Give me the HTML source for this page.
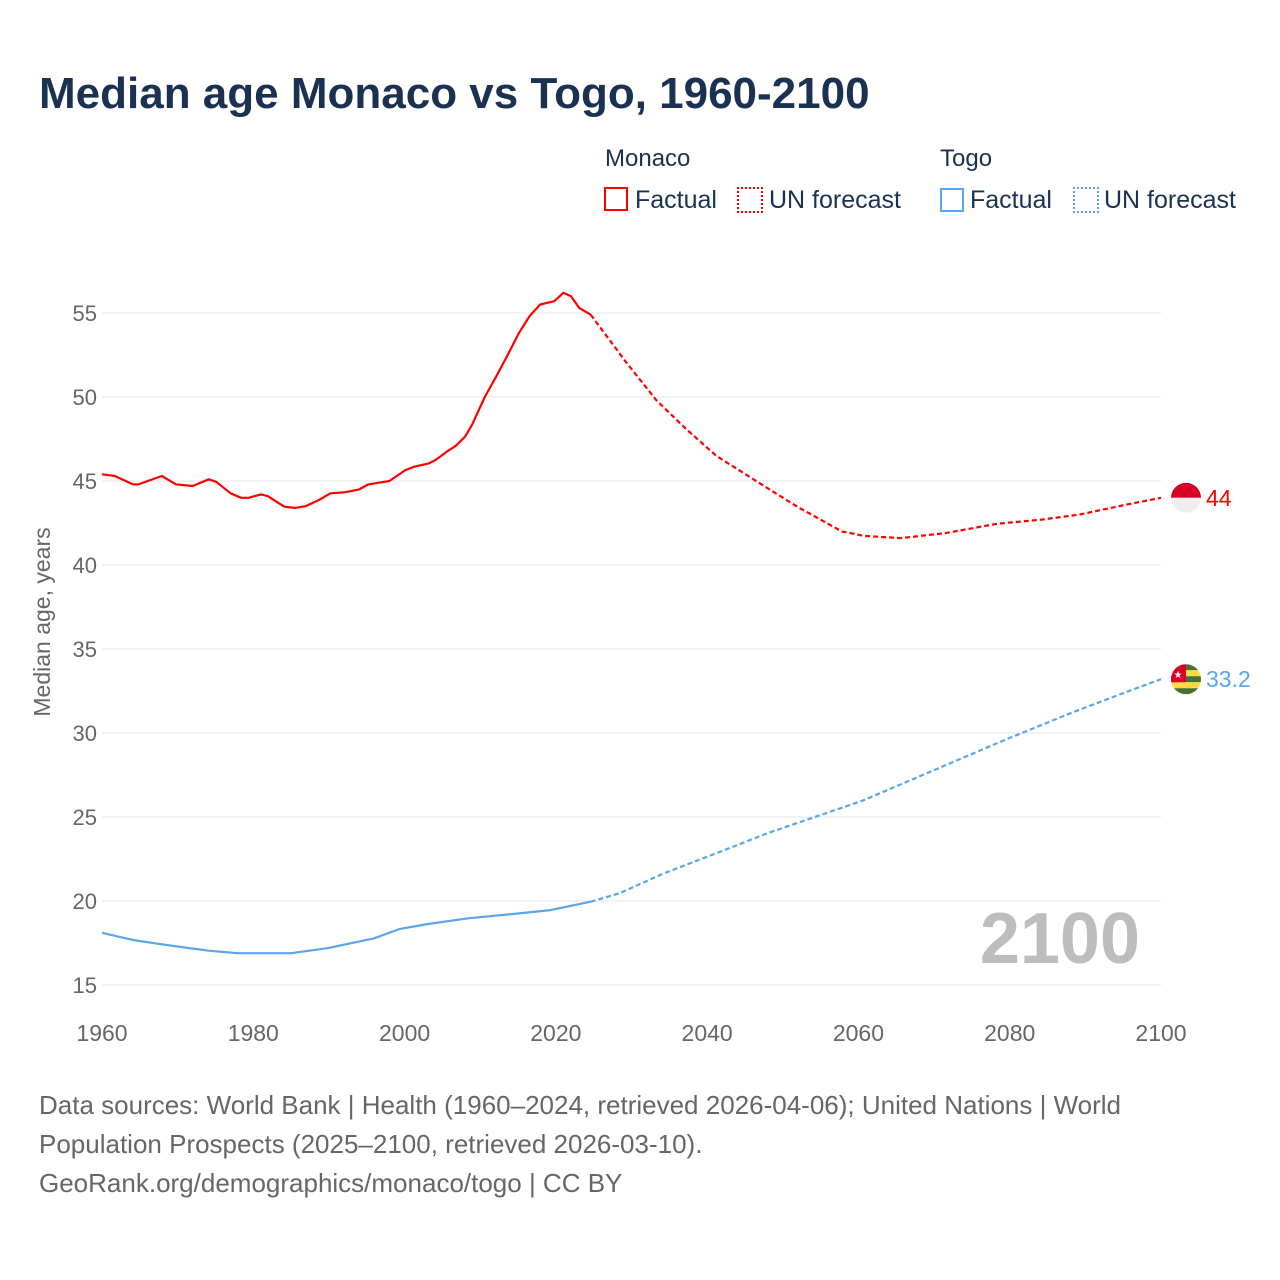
<!DOCTYPE html>
<html><head><meta charset="utf-8"><style>
body{margin:0;background:#fff;font-family:"Liberation Sans",sans-serif}
#wrap{position:relative;width:1280px;height:1280px;overflow:hidden}
.t{position:absolute;white-space:nowrap}
</style></head><body>
<div id="wrap">
<div class="t" style="left:39px;top:69px;font-size:44px;font-weight:bold;color:#1a3152">Median age Monaco vs Togo, 1960-2100</div>
<div class="t" style="left:605px;top:145px;font-size:24px;color:#1a3152">Monaco</div>
<div class="t" style="left:940px;top:145px;font-size:24px;color:#1a3152">Togo</div>
<div class="t" style="left:604px;top:186px;font-size:25px;color:#1a3152"><span style="display:inline-block;width:24px;height:24px;border:2px solid #f00;box-sizing:border-box;vertical-align:-3px;margin-right:7px"></span>Factual</div>
<div class="t" style="left:737px;top:186px;font-size:25px;color:#1a3152"><span style="display:inline-block;width:26px;height:26px;border:2px dotted #f00;box-sizing:border-box;vertical-align:-5px;margin-right:6px"></span>UN forecast</div>
<div class="t" style="left:940px;top:186px;font-size:25px;color:#1a3152"><span style="display:inline-block;width:24px;height:24px;border:2px solid #5aa5ee;box-sizing:border-box;vertical-align:-4px;margin-right:6px"></span>Factual</div>
<div class="t" style="left:1073px;top:186px;font-size:25px;color:#1a3152"><span style="display:inline-block;width:26px;height:26px;border:2px dotted #5aa5ee;box-sizing:border-box;vertical-align:-5px;margin-right:5px"></span>UN forecast</div>
<svg id="chart" width="1280" height="1280" style="position:absolute;left:0;top:0"></svg>
<div class="t" style="left:39px;top:1086px;font-size:26px;color:#666;line-height:39px">Data sources: World Bank | Health (1960–2024, retrieved 2026-04-06); United Nations | World<br>Population Prospects (2025–2100, retrieved 2026-03-10).<br>GeoRank.org/demographics/monaco/togo | CC BY</div>
</div>
<script>
const xTicks=[1960,1980,2000,2020,2040,2060,2080,2100];
const yTicks=[15,20,25,30,35,40,45,50,55];
const monacoYears=[1960,1961.7,1964.1,1964.8,1967.9,1969.8,1972,1974.1,1975.1,1977,1978.4,1979.4,1981,1981.9,1984.1,1985.5,1986.9,1988.8,1990.2,1992.1,1994,1995.2,1998,2000.1,2001.3,2003.2,2004.1,2005.6,2006.8,2008,2008.9,2010.6,2012.2,2013.4,2015.1,2016.5,2017.9,2019.8,2021,2022,2023.1,2024.6];
const monacoValues=[45.4,45.3,44.8,44.8,45.3,44.8,44.7,45.1,44.95,44.27,44.0,44.0,44.2,44.1,43.47,43.4,43.5,43.9,44.27,44.33,44.5,44.8,45.0,45.65,45.85,46.05,46.25,46.75,47.1,47.64,48.33,50.0,51.3,52.3,53.8,54.8,55.5,55.7,56.2,56.0,55.3,54.9];
const monacoFcYears=[2024.6,2029.4,2033.3,2037.2,2041.2,2047,2051.9,2057.8,2060.7,2065.6,2071.5,2078.3,2084.2,2089.2,2095.5,2100];
const monacoFcValues=[54.9,52.0,49.8,48.1,46.5,44.85,43.47,42.0,41.73,41.6,41.9,42.45,42.7,43.0,43.6,44.0];
const togoYears=[1960,1964.1,1967,1970.8,1974.1,1977.9,1985,1989.8,1996,1999.3,2003.1,2008.4,2013.1,2019.3,2024.6];
const togoValues=[18.11,17.68,17.48,17.24,17.04,16.89,16.89,17.19,17.78,18.33,18.63,18.97,19.17,19.46,19.96];
const togoFcYears=[2024.6,2028.4,2034.3,2041.2,2048,2054.9,2060.7,2068.5,2079.3,2088,2095.5,2100];
const togoFcValues=[19.96,20.46,21.65,22.84,24.04,25.1,26.0,27.5,29.58,31.17,32.46,33.2];
const X0=102,X1=1161,Y0=985,Y1=313;
const xs=y=>X0+(y-1960)/140*(X1-X0);
const ys=v=>Y0-(v-15)/40*(Y0-Y1);
const svg=document.getElementById('chart');
const NS='http://www.w3.org/2000/svg';
function mk(t,a){const e=document.createElementNS(NS,t);for(const k in a)e.setAttribute(k,a[k]);svg.appendChild(e);return e;}
yTicks.forEach(v=>{
 const l=mk('line',{x1:X0,x2:X1,y1:ys(v),y2:ys(v),stroke:'#e6e6e6','stroke-width':1});
 
 
 const t=mk('text',{x:97,y:ys(v)+8,'text-anchor':'end','font-size':22,fill:'#666','font-family':'Liberation Sans'});
 t.textContent=v;
 
 
});
xTicks.forEach(v=>{
 const t=mk('text',{x:xs(v),y:1041,'text-anchor':'middle','font-size':23,fill:'#666','font-family':'Liberation Sans'});
 t.textContent=v;
 
 
});
const yt=mk('text',{transform:'translate(50,622) rotate(-90)','text-anchor':'middle','font-size':23,fill:'#666','font-family':'Liberation Sans'});
yt.textContent='Median age, years';


const yr=mk('text',{x:1140,y:963,'text-anchor':'end','font-size':72,'font-weight':'bold',fill:'#bdbdbd','font-family':'Liberation Sans'});
yr.textContent='2100';


function line(xa,va,col,dash,name){
 const d=xa.map((y,i)=>(i?'L':'M')+xs(y).toFixed(1)+','+ys(va[i]).toFixed(1)).join('');
 const p=mk('path',{d:d,fill:'none',stroke:col,'stroke-width':2.2,'stroke-linejoin':'round'});
 if(dash)p.setAttribute('stroke-dasharray','5,3');
 
 
}
line(monacoYears,monacoValues,'#ff0000',false,'monaco-factual-line');
line(monacoFcYears,monacoFcValues,'#ff0000',true,'monaco-forecast-line');
line(togoYears,togoValues,'#5aa5ee',false,'togo-factual-line');
line(togoFcYears,togoFcValues,'#5aa5ee',true,'togo-forecast-line');
const mEnd=monacoFcValues[monacoFcValues.length-1], tEnd=togoFcValues[togoFcValues.length-1];
const cx=1186;
let my=ys(mEnd);
let g=document.createElementNS(NS,'g');svg.appendChild(g);


g.innerHTML=`<clipPath id="cm"><circle cx="${cx}" cy="${my}" r="15"/></clipPath><g clip-path="url(#cm)"><rect x="${cx-15}" y="${my-15}" width="30" height="15" fill="#d80027"/><rect x="${cx-15}" y="${my}" width="30" height="15" fill="#eee"/></g>`;
let ml=mk('text',{x:1206,y:my+8,'font-size':23,fill:'#ff0000','font-family':'Liberation Sans'});
ml.textContent=mEnd;


let ty=ys(tEnd);
g=document.createElementNS(NS,'g');svg.appendChild(g);


let s='';for(let i=0;i<5;i++)s+=`<rect x="${cx-15}" y="${ty-15+i*6}" width="30" height="6" fill="${i%2?'#ffda44':'#496e2d'}"/>`;
g.innerHTML=`<clipPath id="ct"><circle cx="${cx}" cy="${ty}" r="15"/></clipPath><g clip-path="url(#ct)">${s}<rect x="${cx-15}" y="${ty-15}" width="15" height="18" fill="#d80027"/><text x="${cx-8}" y="${ty-1}" font-size="10" fill="#eee" text-anchor="middle">★</text></g>`;
let tl=mk('text',{x:1206,y:ty+8,'font-size':23,fill:'#5aa5ee','font-family':'Liberation Sans'});
tl.textContent=tEnd;


</script>
</body></html>
